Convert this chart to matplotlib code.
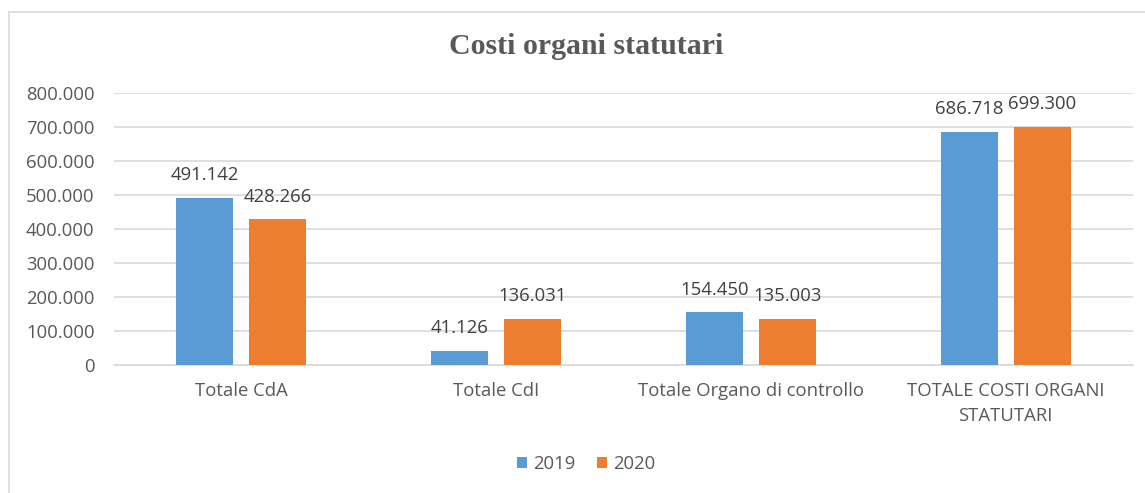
import matplotlib.pyplot as plt
import numpy as np
from matplotlib.patches import Rectangle

categories = ['Totale CdA', 'Totale CdI', 'Totale Organo di controllo',
              'TOTALE COSTI ORGANI\nSTATUTARI']
val_2019 = [491142, 41126, 154450, 686718]
val_2020 = [428266, 136031, 135003, 699300]
series = ['2019', '2020']
ticks = [0, 100000, 200000, 300000, 400000, 500000, 600000, 700000, 800000]


def it_fmt(v):
    return '{:,}'.format(int(v)).replace(',', '.')


plt.rcParams['font.family'] = ['Open Sans', 'DejaVu Sans']
fs = 13.3

fig = plt.figure(figsize=(11.45, 4.93), dpi=100)
# bordo del grafico
fig.patches.append(Rectangle((9 / 1145, -0.05), 1.2, 1 - 12 / 493 + 0.05,
                             transform=fig.transFigure, fill=False,
                             edgecolor='#d9d9d9', linewidth=1.2))

ax = fig.add_axes([114 / 1145, 1 - 365 / 493, (1133 - 114) / 1145, (365 - 93) / 493])

x = np.arange(len(categories))
w = 0.224
off = 0.143
b1 = ax.bar(x - off, val_2019, w, color='#5B9BD5', label=series[0], zorder=3)
b2 = ax.bar(x + off, val_2020, w, color='#ED7D31', label=series[1], zorder=3)

for bars in (b1, b2):
    for r in bars:
        ax.annotate(it_fmt(r.get_height()), (r.get_x() + r.get_width() / 2, r.get_height()),
                    xytext=(0, 10), textcoords='offset points',
                    ha='center', va='bottom', fontsize=fs, color='#404040')

ax.set_xlim(-0.5, len(categories) - 0.5)
ax.set_ylim(0, 800000)
ax.set_yticks(ticks)
ax.set_yticklabels([it_fmt(t) for t in ticks], fontsize=fs, color='#595959')
ax.set_xticks(x)
ax.set_xticklabels(categories, fontsize=fs, color='#595959', linespacing=1.5, va='top')
ax.tick_params(axis='both', length=0)
ax.tick_params(axis='y', pad=14)
ax.tick_params(axis='x', pad=12)
ax.grid(axis='y', color='#d9d9d9', linewidth=1.2, zorder=0)
for s in ['top', 'right', 'left']:
    ax.spines[s].set_visible(False)
ax.spines['bottom'].set_color('#d9d9d9')
ax.spines['bottom'].set_linewidth(1.2)

fig.text(586 / 1145, 1 - 47 / 493, 'Costi organi statutari', ha='center', va='center',
         fontsize=21.5, fontweight='bold', color='#595959', family=['Liberation Serif', 'DejaVu Serif'])

fig.legend(handles=[b1, b2], labels=series, loc='center', bbox_to_anchor=(586 / 1145, 1 - 464 / 493),
           ncol=2, frameon=False, fontsize=fs, handlelength=0.55, handleheight=0.55,
           handletextpad=0.3, columnspacing=1.2, labelcolor='#595959')

fig.savefig('out.png', dpi=100)
